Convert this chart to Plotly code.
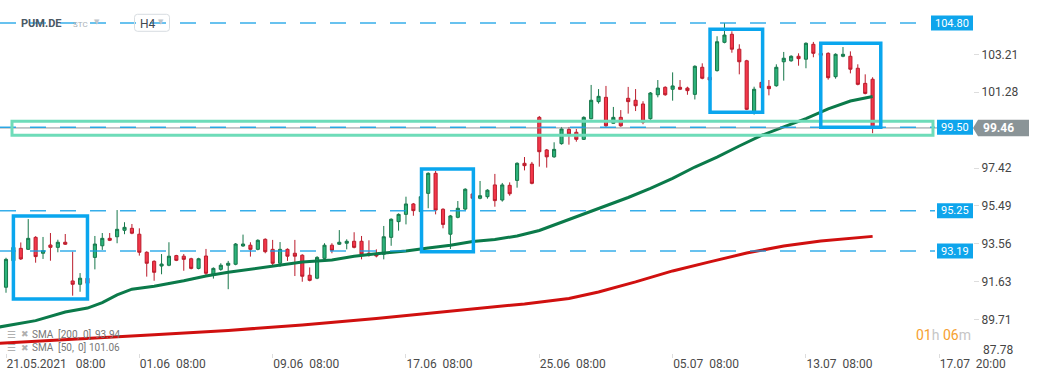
import plotly.graph_objects as go

# ---------------- data (H4 candles, index 0 = 21.05.2021 08:00) ----------------
opens = [91.35, 92.70, 93.33, 93.28, 93.89, 93.08, 93.50, 93.38, 93.64, 91.67,
         91.50, 91.81, 92.87, 93.46, 93.84, 93.92, 94.25, 94.35, 94.05, 93.13,
         92.67, 92.43, 92.47, 92.96, 92.93, 92.80, 92.31, 92.94, 91.99, 92.26,
         92.47, 92.52, 93.45, 93.49, 93.28, 93.79, 93.28, 92.57, 93.28, 93.08,
         92.98, 91.96, 91.81, 92.82, 93.49, 93.54, 93.59, 93.69, 93.69, 93.08,
         93.03, 93.03, 93.89, 94.69, 95.06, 95.59, 95.20, 96.13, 97.15, 95.32,
         94.05, 94.91, 95.33, 96.10, 95.88, 95.96, 96.56, 95.79, 96.54, 96.79,
         97.66, 97.62, 100.00, 98.34, 97.99, 98.66, 99.39, 99.24, 98.88, 99.93,
         100.80, 101.02, 99.70, 100.00, 100.97, 100.87, 100.68, 99.93, 101.15, 101.53,
         101.43, 101.53, 101.49, 101.17, 102.55, 102.04, 102.38, 103.82, 104.23, 103.47,
         102.88, 100.24, 101.78, 101.58, 101.61, 102.83, 102.88, 103.11, 102.96, 103.72,
         103.26, 103.26, 102.07, 103.11, 103.11, 102.50, 101.73, 101.94]
highs = [92.85, 93.45, 93.63, 94.82, 93.95, 93.91, 94.11, 93.77, 94.06, 93.16,
         92.07, 91.90, 93.96, 94.11, 94.11, 95.28, 94.66, 94.57, 94.35, 93.18,
         92.72, 93.04, 93.64, 93.00, 93.04, 92.85, 92.85, 93.30, 92.36, 92.57,
         92.69, 93.60, 94.03, 93.64, 93.79, 93.84, 93.76, 93.65, 93.33, 93.76,
         93.03, 92.36, 92.93, 93.59, 93.59, 94.26, 93.79, 94.15, 93.96, 93.74,
         93.28, 94.47, 94.86, 95.11, 95.96, 95.64, 96.01, 97.20, 97.27, 95.37,
         95.03, 95.74, 96.39, 96.15, 96.76, 96.34, 97.12, 96.66, 96.69, 97.71,
         97.98, 97.73, 100.07, 98.39, 98.73, 99.51, 99.51, 99.41, 100.05, 101.65,
         101.44, 101.60, 100.53, 100.37, 101.55, 101.44, 100.82, 101.29, 101.90, 101.58,
         102.29, 101.90, 101.56, 102.65, 102.75, 102.09, 104.13, 104.80, 104.38, 103.72,
         102.93, 101.56, 101.85, 101.90, 102.70, 103.33, 103.16, 103.26, 103.82, 103.84,
         103.31, 103.31, 103.26, 103.58, 103.36, 102.70, 102.19, 102.04]
lows = [91.07, 92.65, 92.74, 93.25, 92.60, 92.79, 92.70, 93.13, 93.50, 90.92,
        91.12, 91.50, 92.26, 93.25, 93.70, 93.59, 94.05, 94.05, 92.96, 91.89,
        91.68, 92.01, 92.42, 92.68, 92.19, 92.26, 92.26, 91.97, 91.79, 92.19,
        91.25, 92.47, 93.41, 92.91, 93.23, 93.08, 92.43, 92.39, 92.69, 91.92,
        91.63, 91.65, 91.76, 92.77, 93.08, 93.50, 93.28, 93.33, 92.77, 92.91,
        92.87, 92.77, 93.46, 94.23, 94.55, 94.99, 95.15, 95.37, 95.06, 94.35,
        93.30, 94.86, 95.28, 95.83, 95.83, 95.86, 95.45, 95.71, 96.01, 96.42,
        97.30, 96.59, 97.49, 97.44, 97.94, 98.61, 98.61, 98.76, 98.85, 99.90,
        100.70, 99.52, 99.68, 99.52, 100.19, 100.32, 99.65, 99.88, 101.02, 101.10,
        100.85, 101.39, 101.15, 100.91, 101.94, 101.85, 102.33, 103.77, 103.29, 102.19,
        100.37, 100.14, 101.46, 101.12, 101.56, 101.87, 102.83, 102.63, 102.50, 103.06,
        103.11, 101.92, 101.97, 103.06, 102.24, 101.63, 101.17, 99.19]
closes = [92.77, 93.38, 92.79, 93.84, 92.91, 93.21, 93.38, 93.64, 93.54, 91.50,
          91.81, 91.55, 93.55, 93.84, 93.74, 94.30, 94.40, 94.10, 93.13, 92.57,
          92.11, 92.53, 92.93, 92.72, 92.77, 92.31, 92.80, 92.06, 92.31, 92.47,
          92.57, 93.55, 93.55, 93.28, 93.74, 93.16, 92.57, 93.28, 92.93, 92.93,
          91.91, 91.70, 92.87, 93.49, 93.23, 93.64, 93.69, 93.38, 93.03, 93.03,
          92.94, 93.92, 94.81, 95.06, 95.59, 95.25, 95.96, 97.15, 95.28, 94.55,
          94.98, 95.37, 96.34, 95.88, 96.01, 96.29, 95.76, 96.56, 96.11, 97.66,
          97.54, 96.64, 98.25, 97.99, 98.37, 99.41, 99.15, 98.88, 100.00, 100.87,
          101.07, 99.57, 100.00, 99.57, 100.80, 100.59, 99.75, 101.24, 101.49, 101.15,
          101.60, 101.43, 101.36, 102.60, 101.99, 101.90, 103.85, 104.19, 103.47, 102.83,
          100.41, 101.43, 101.51, 101.46, 102.55, 103.01, 103.11, 102.99, 103.77, 103.26,
          103.16, 102.02, 103.21, 103.21, 102.45, 101.68, 101.22, 99.46]
candle_idx = list(range(len(closes)))

sma50_idx = [-1, 0, 4, 8, 11, 13, 15, 17, 20, 24, 27, 30, 33, 36, 40, 44, 47, 50, 54, 57,
             60, 63, 66, 69, 72, 75, 78, 81, 84, 87, 90, 93, 96, 99, 102, 105, 108, 111, 114, 117]
sma50 = [89.32, 89.38, 89.65, 90.09, 90.29, 90.57, 90.96, 91.25, 91.40, 91.68,
         91.92, 92.11, 92.26, 92.44, 92.63, 92.74, 92.93, 93.06, 93.20, 93.35,
         93.49, 93.68, 93.78, 93.96, 94.24, 94.66, 95.08, 95.49, 95.92, 96.38,
         96.89, 97.47, 97.98, 98.54, 99.08, 99.51, 99.94, 100.43, 100.83, 101.06]
sma200_idx = [-1, 0, 10, 20, 30, 40, 50, 60, 70, 76, 80, 85, 90, 95, 100, 105, 110, 117]
sma200 = [88.50, 88.52, 88.70, 88.93, 89.15, 89.43, 89.76, 90.14, 90.50, 90.78,
          91.11, 91.62, 92.18, 92.64, 93.09, 93.45, 93.70, 93.94]

tick_idx = [0, 18, 36, 54, 72, 90, 108, 126]
nb = "\u00a0"
tick_labels = ["21.05.2021" + nb * 3 + "08:00", "01.06" + nb * 2 + "08:00", "09.06" + nb * 2 + "08:00",
               "17.06" + nb * 2 + "08:00", "25.06" + nb * 2 + "08:00", "05.07" + nb * 2 + "08:00",
               "13.07" + nb * 2 + "08:00", "17.07" + nb * 2 + "20:00"]
price_ticks = [103.21, 101.28, 97.42, 95.49, 93.56, 91.63, 89.71]
bottom_tick_label = "87.78"

levels = [104.80, 99.50, 95.25, 93.19]
last_price = 99.46
sma_periods = [200, 50]
sma_last = [93.94, 101.06]
zone = [99.09, 99.80]
boxes = [(1.0, 11.0, 90.75, 94.98), (56.1, 63.1, 93.16, 97.37),
         (95.05, 102.15, 100.26, 104.48), (110.0, 118.1, 99.49, 103.77)]

# ---------------- figure ----------------
FONT = "Roboto"
W, H = 1041, 380
ML, MR, MT, MB = 0, 68, 0, 27
PW, PH = W - ML - MR, H - MT - MB

fig = go.Figure()
fig.add_trace(go.Scatter(x=sma200_idx, y=sma200, mode="lines",
                         line=dict(color="#d0100f", width=3), hoverinfo="skip"))
fig.add_trace(go.Scatter(x=sma50_idx, y=sma50, mode="lines",
                         line=dict(color="#0b7a4a", width=3), hoverinfo="skip"))
fig.add_trace(go.Candlestick(
    x=candle_idx, open=opens, high=highs, low=lows, close=closes,
    increasing=dict(fillcolor="#2cb37b", line=dict(color="#16774a", width=1)),
    decreasing=dict(fillcolor="#f4374a", line=dict(color="#bb1c2c", width=1)),
    whiskerwidth=0))

shapes = []
# current price line
shapes.append(dict(type="line", xref="paper", yref="y", x0=0, x1=1, y0=last_price, y1=last_price,
                   line=dict(color="#8c9598", width=1)))
# dashed horizontal levels
badge_left = {104.80: 931, 99.50: 937, 95.25: 937, 93.19: 937}
for lv in levels:
    shapes.append(dict(type="line", xref="paper", yref="y", x0=0, x1=(badge_left[lv] - 2) / PW,
                       y0=lv, y1=lv, line=dict(color="rgba(20,160,230,0.85)", width=1.5, dash="16px,14px")))
# zone rectangle
shapes.append(dict(type="rect", xref="x", yref="y", x0=0.81, x1=125.15, y0=zone[0], y1=zone[1],
                   line=dict(color="#6edcb9", width=3), fillcolor="rgba(0,0,0,0)"))
# highlight boxes
for (x0, x1, y0, y1) in boxes:
    shapes.append(dict(type="rect", xref="x", yref="y", x0=x0, x1=x1, y0=y0, y1=y1,
                       line=dict(color="#0aa6ee", width=3.5), fillcolor="rgba(0,0,0,0)"))
# level badges
for lv in levels:
    shapes.append(dict(type="rect", xref="paper", yref="y", x0=badge_left[lv] / PW, x1=1.0,
                       ysizemode="pixel", yanchor=lv, y0=-7.5, y1=7.5,
                       fillcolor="#0ea5ec", line=dict(width=0)))
# last price badge
shapes.append(dict(type="path", xref="paper", yref="y", xsizemode="pixel", ysizemode="pixel",
                   xanchor=1.0, yanchor=last_price,
                   path="M0,0 L5,-8.2 L56,-8.2 L56,8.2 L5,8.2 Z",
                   fillcolor="#8a9497", line=dict(width=0)))
# H4 box
shapes.append(dict(type="path", xref="paper", yref="paper", xsizemode="pixel", ysizemode="pixel",
                   xanchor=152 / PW, yanchor=1 - 22.8 / PH,
                   path="M-14.5,-8.5 L14.5,-8.5 Q17.5,-8.5 17.5,-5.5 L17.5,5.5 Q17.5,8.5 14.5,8.5 "
                        "L-14.5,8.5 Q-17.5,8.5 -17.5,5.5 L-17.5,-5.5 Q-17.5,-8.5 -14.5,-8.5 Z",
                   fillcolor="rgba(255,255,255,0)", line=dict(color="#d8dde1", width=1)))

ann = []
def px2px(x):
    return x / PW
def py2p(y):
    return 1 - y / PH

def txt(x, y, text, size, color, anchor="left", family=FONT):
    ann.append(dict(xref="paper", yref="paper", x=px2px(x), y=py2p(y), text=text,
                    xanchor=anchor, yanchor="middle", showarrow=False,
                    font=dict(family=family, size=size, color=color)))

for lv in levels:
    ann.append(dict(xref="paper", yref="y", x=1 - 2.5 / PW, y=lv, text=f"{lv:.2f}",
                    xanchor="right", yanchor="middle", showarrow=False,
                    font=dict(family=FONT, size=11, color="white")))
ann.append(dict(xref="paper", yref="y", x=1 + 8 / PW, y=last_price, text=f"<b>{last_price:.2f}</b>",
                xanchor="left", yanchor="middle", showarrow=False,
                font=dict(family=FONT, size=12, color="white")))
txt(PW + 8, 350, bottom_tick_label, 12, "#454545")
# countdown
txt(914, 335, "<span style='color:#f6a02f'>01</span><span style='color:#c6c6c6'>h</span> "
              "<span style='color:#f6a02f'>06</span><span style='color:#c6c6c6'>m</span>", 14, "#f6a02f")
# top-left instrument label
txt(19, 24, "<b>PUM.DE</b>", 11, "#4a5864")
txt(71, 24.5, "STC", 8, "#a9b1b8")
txt(92, 21.5, "▼", 7, "#c0c5ca", family="DejaVu Sans")
txt(138, 23.5, "H4", 12, "#3f4850")
txt(156, 22.5, "▼", 7, "#c0c5ca", family="DejaVu Sans")
# SMA legend rows
for row_y, period, last in zip([334, 347.5], sma_periods, sma_last):
    txt(5, row_y, "☰", 10, "#b0b0b0", family="DejaVu Sans")
    txt(19, row_y, "✖", 9, "#b0b0b0", family="DejaVu Sans")
    txt(30, row_y, "SMA", 10, "#777777")
    txt(56, row_y, f"[{period},", 10, "#777777")
    txt(80.5 if period >= 100 else 75.5, row_y, "0]", 10, "#777777")
    txt(121.5, row_y, f"{last:.2f}", 10, "#777777", anchor="right")

x_lo = -0.81
x_hi = x_lo + PW / 7.407
y_hi = 105.975
y_lo = y_hi - PH / 19.64

fig.update_layout(
    width=W, height=H, margin=dict(l=ML, r=MR, t=MT, b=MB),
    paper_bgcolor="white", plot_bgcolor="white", showlegend=False,
    font=dict(family=FONT), shapes=shapes, annotations=ann,
    boxgap=0.4,
    xaxis=dict(range=[x_lo, x_hi], tickmode="array", tickvals=tick_idx, ticktext=tick_labels,
               ticks="outside", ticklen=4, tickcolor="#dddddd", ticklabelposition="outside right",
               showgrid=False, zeroline=False, showline=False, rangeslider=dict(visible=False),
               tickfont=dict(family=FONT, size=12, color="#4a4a4a")),
    yaxis=dict(range=[y_lo, y_hi], side="right", tickmode="array", tickvals=price_ticks,
               ticktext=[f"{v:.2f}" for v in price_ticks], ticks="outside", ticklen=5,
               tickcolor="#dddddd", showgrid=False, zeroline=False, showline=False,
               tickfont=dict(family=FONT, size=12, color="#454545")),
)

fig.write_html("out.html", config={"displayModeBar": False},
               post_script="document.body.style.margin='0px';document.body.style.overflow='hidden';")
